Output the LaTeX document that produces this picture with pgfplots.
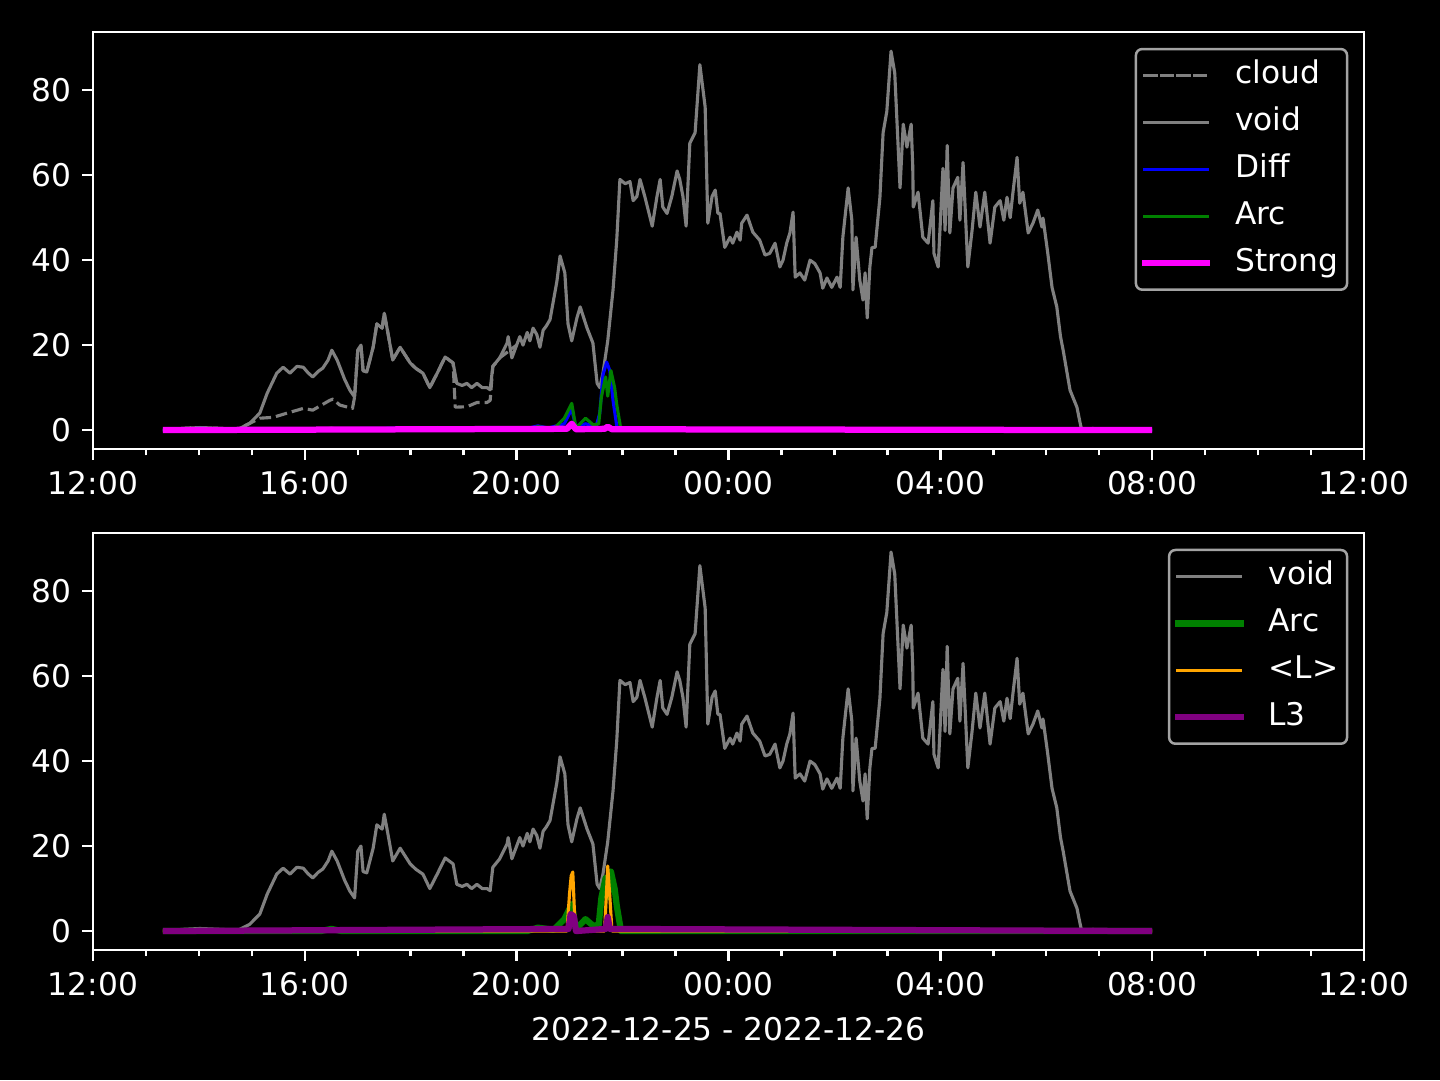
\documentclass[border=0pt]{standalone}
\usepackage{fontspec}
\setmainfont{DejaVu Sans}
\usepackage{pgfplots}
\usepackage{pgfplotstable}
\pgfplotsset{compat=1.18}

\definecolor{lgframe}{RGB}{163,163,163}
\definecolor{mplorange}{RGB}{255,165,0}
\definecolor{mplgreen}{RGB}{0,128,0}
\definecolor{mplpurple}{RGB}{128,0,128}
\definecolor{mplgray}{RGB}{128,128,128}
\definecolor{mplmagenta}{RGB}{255,0,255}
\definecolor{mplblue}{RGB}{0,0,255}

\pgfplotstableread{
x y
13.32 0
13.70 0.4
14.02 0.6
14.40 0.4
14.74 0.2
14.96 1.6
15.15 4
15.29 8.7
15.47 13.4
15.59 14.8
15.72 13.4
15.85 15
15.97 14.8
16.06 13.5
16.15 12.5
16.25 13.8
16.34 14.6
16.44 16.5
16.51 18.8
16.61 16.5
16.75 12
16.85 9.4
16.94 7.8
17.00 18.8
17.06 20
17.10 14
17.17 13.7
17.29 19.5
17.36 25
17.46 24
17.50 27.5
17.57 22.8
17.66 16.5
17.80 19.5
17.99 15.8
18.10 14.5
18.23 13.4
18.36 10
18.50 13.4
18.65 17.2
18.80 15.8
18.87 11
18.97 10.5
19.06 11
19.15 10
19.25 11
19.35 10
19.44 10
19.50 9.5
19.55 15
19.68 17
19.82 20.5
19.84 22
19.91 17
20.06 22
20.12 20
20.20 23
20.25 21
20.31 24
20.38 22.5
20.44 19.5
20.50 23.5
20.56 24.5
20.63 26
20.76 35
20.82 41
20.91 37
20.97 25
21.04 21
21.14 26.5
21.20 29
21.33 24
21.44 20.5
21.52 11
21.57 10
21.63 13.4
21.72 21
21.82 33
21.89 44.7
21.95 59
22.05 58
22.14 58.5
22.20 54
22.27 55
22.33 59
22.42 55
22.56 48
22.65 55
22.71 59
22.76 52.5
22.84 51
22.93 55
23.03 61
23.08 59
23.14 55
23.20 48
23.27 67.5
23.37 70
23.46 86
23.56 76
23.61 48.7
23.69 55
23.75 56.5
23.80 51
23.84 51
23.93 43
24.03 45.4
24.08 44
24.16 46.6
24.22 44.7
24.25 48.7
24.35 50.6
24.46 46.6
24.59 44.7
24.69 41.2
24.78 41.6
24.88 44
24.97 38.4
25.03 40
25.10 44
25.16 46.4
25.22 51.3
25.26 36
25.35 37
25.44 35.3
25.54 40
25.63 39.2
25.73 37
25.78 33.4
25.86 35.8
25.95 33.6
26.05 36
26.11 33.6
26.16 45.4
26.26 57
26.33 49.4
26.35 33
26.41 45.4
26.48 35.3
26.54 30.6
26.58 37
26.62 26.4
26.67 38.4
26.71 43
26.77 43
26.86 54.8
26.92 70
26.99 75
27.07 89.2
27.14 84
27.24 57
27.30 72
27.37 66.6
27.45 72
27.48 62
27.49 52.5
27.58 56
27.67 45.4
27.77 44
27.86 54
27.88 41.6
27.96 38.4
28.05 61.6
28.09 47
28.13 67
28.18 46.4
28.24 57
28.33 59.5
28.37 49.4
28.43 63
28.52 38.4
28.60 47
28.67 56
28.75 47.8
28.84 56
28.94 44
29.03 52.5
29.13 54
29.20 49.4
29.26 54.8
29.32 50
29.37 55.7
29.45 64.2
29.50 53.4
29.56 56
29.66 46.4
29.75 48.7
29.84 51.8
29.92 47.8
29.94 49.9
30.03 41.6
30.11 33.6
30.20 29
30.27 22
30.32 18.8
30.45 9.4
30.58 5.4
30.66 0.5
30.75 0
30.88 0.4
31.00 0
32.00 0
}\voidtable

\pgfplotstableread{
x y
13.32 0
13.70 0.4
14.02 0.6
14.40 0.4
14.74 0.2
14.96 1.6
15.15 2.8
15.40 3
15.72 4.2
15.97 5.1
16.15 4.7
16.47 7
16.53 7.3
16.66 5.9
16.90 5.1
16.94 7.8
17.00 18.8
17.06 20
17.10 14
17.17 13.7
17.29 19.5
17.36 25
17.46 24
17.50 27.5
17.57 22.8
17.66 16.5
17.80 19.5
17.99 15.8
18.10 14.5
18.23 13.4
18.36 10
18.50 13.4
18.65 17.2
18.80 15.8
18.84 5.4
19.06 5.5
19.25 6.5
19.44 6.5
19.50 7
19.55 15
19.68 17
20.00 20
}\cloudtable

\pgfplotsset{
  mystyle/.style={
    scale only axis, width=406.7pt, height=133.4pt,
    xmin=12, xmax=36, ymin=-4.46, ymax=93.66,
    xtick={12,16,20,24,28,32,36},
    xticklabels={12:00,16:00,20:00,00:00,04:00,08:00,12:00},
    minor x tick num=3,
    ytick={0,20,40,60,80},
    axis line style={white, line width=0.8pt},
    every tick/.style={white, line width=0.8pt},
    major tick length=3.5pt, minor tick length=2pt,
    tick align=outside, tick pos=left,
    ticklabel style={text=white, font=\fontsize{10}{12}\selectfont},
    /pgf/number format/assume math mode=true,
    legend cell align=left,
    legend image code/.code={\draw[line cap=rect,##1] (0pt,0pt) -- (20pt,0pt);},
    legend style={at={(1,1)}, anchor=north east, xshift=-5pt, yshift=-5pt,
      draw=lgframe, line width=0.8pt, fill=black, text=white, rounded corners=2pt,
      inner xsep=1.8pt, inner ysep=2.5pt, row sep=3pt, column sep=7pt,
      font=\fontsize{10}{12}\selectfont,
      nodes={inner xsep=1pt, inner ysep=1pt, text height=7.6pt, text depth=2.4pt}},
    every axis plot/.append style={line join=round},
  }
}

\begin{document}
\begin{tikzpicture}
\fill[black] (0pt,0pt) rectangle (460.8pt,345.6pt);

\begin{axis}[mystyle, at={(29.76pt,201.9pt)}, anchor=south west]
\addplot[mplgray, line width=1pt, dash pattern=on 3.7pt off 1.6pt] table[x=x,y=y] {\cloudtable};
\addlegendentry{cloud}
\addplot[mplgray, line width=1pt] table[x=x,y=y] {\voidtable};
\addlegendentry{void}
\addplot[mplblue, line width=1pt] coordinates {(13.32,0) (14.0,0.4) (14.7,0.2) (16.5,0.3) (18.2,0.5) (18.5,0.6) (19.5,0.3) (20.2,0.4) (20.4,1.0) (20.6,0.5) (20.9,1.5) (21.04,5) (21.12,0.5) (21.3,1.5) (21.5,0.8) (21.57,4) (21.63,13) (21.70,16) (21.76,14) (21.82,7) (21.89,1) (21.95,0) (32,0)};
\addlegendentry{Diff}
\addplot[mplgreen, line width=1pt] coordinates {(13.32,0) (16.3,0) (16.5,0.5) (16.7,0) (20.2,0) (20.4,0.8) (20.7,0.3) (20.9,2.8) (21.04,6.3) (21.12,0.5) (21.3,2.8) (21.45,1.2) (21.55,1.5) (21.6,7.8) (21.68,12.5) (21.72,8) (21.78,14) (21.85,10) (21.89,6) (21.97,0) (32,0)};
\addlegendentry{Arc}
\addplot[mplmagenta, line width=2pt] coordinates {(13.32,0) (20.95,0.3) (21.04,1.5) (21.12,0.2) (21.66,0.3) (21.72,0.8) (21.80,0.2) (32,0)};
\addlegendentry{Strong}
\end{axis}

\begin{axis}[mystyle, at={(29.76pt,41.6pt)}, anchor=south west,
  xlabel={2022-12-25 - 2022-12-26},
  xlabel style={text=white, font=\fontsize{10}{12}\selectfont}]
\addplot[mplgray, line width=1pt] table[x=x,y=y] {\voidtable};
\addlegendentry{void}
\addplot[mplgreen, line width=2pt] coordinates {(13.32,0) (16.3,0) (16.5,0.5) (16.7,0) (20.2,0) (20.4,0.8) (20.7,0.3) (20.9,2.8) (21.04,6.3) (21.12,0.5) (21.3,2.8) (21.45,1.2) (21.55,1.5) (21.6,7.8) (21.68,12.5) (21.72,8) (21.78,14) (21.85,10) (21.89,6) (21.97,0) (32,0)};
\addlegendentry{Arc}
\addplot[mplorange, line width=1pt] coordinates {(13.32,0) (20.95,0) (21.0,9) (21.03,13) (21.06,13.9) (21.09,5) (21.12,0) (21.66,0) (21.70,10) (21.72,15.3) (21.76,8) (21.80,0) (32,0)};
\addlegendentry{<L>}
\addplot[mplpurple, line width=2pt] coordinates {(13.32,0) (20.98,0.5) (21.02,4) (21.08,3.5) (21.12,0) (21.68,0.5) (21.72,3.3) (21.76,0.5) (32,0)};
\addlegendentry{L3}
\end{axis}
\end{tikzpicture}
\end{document}
